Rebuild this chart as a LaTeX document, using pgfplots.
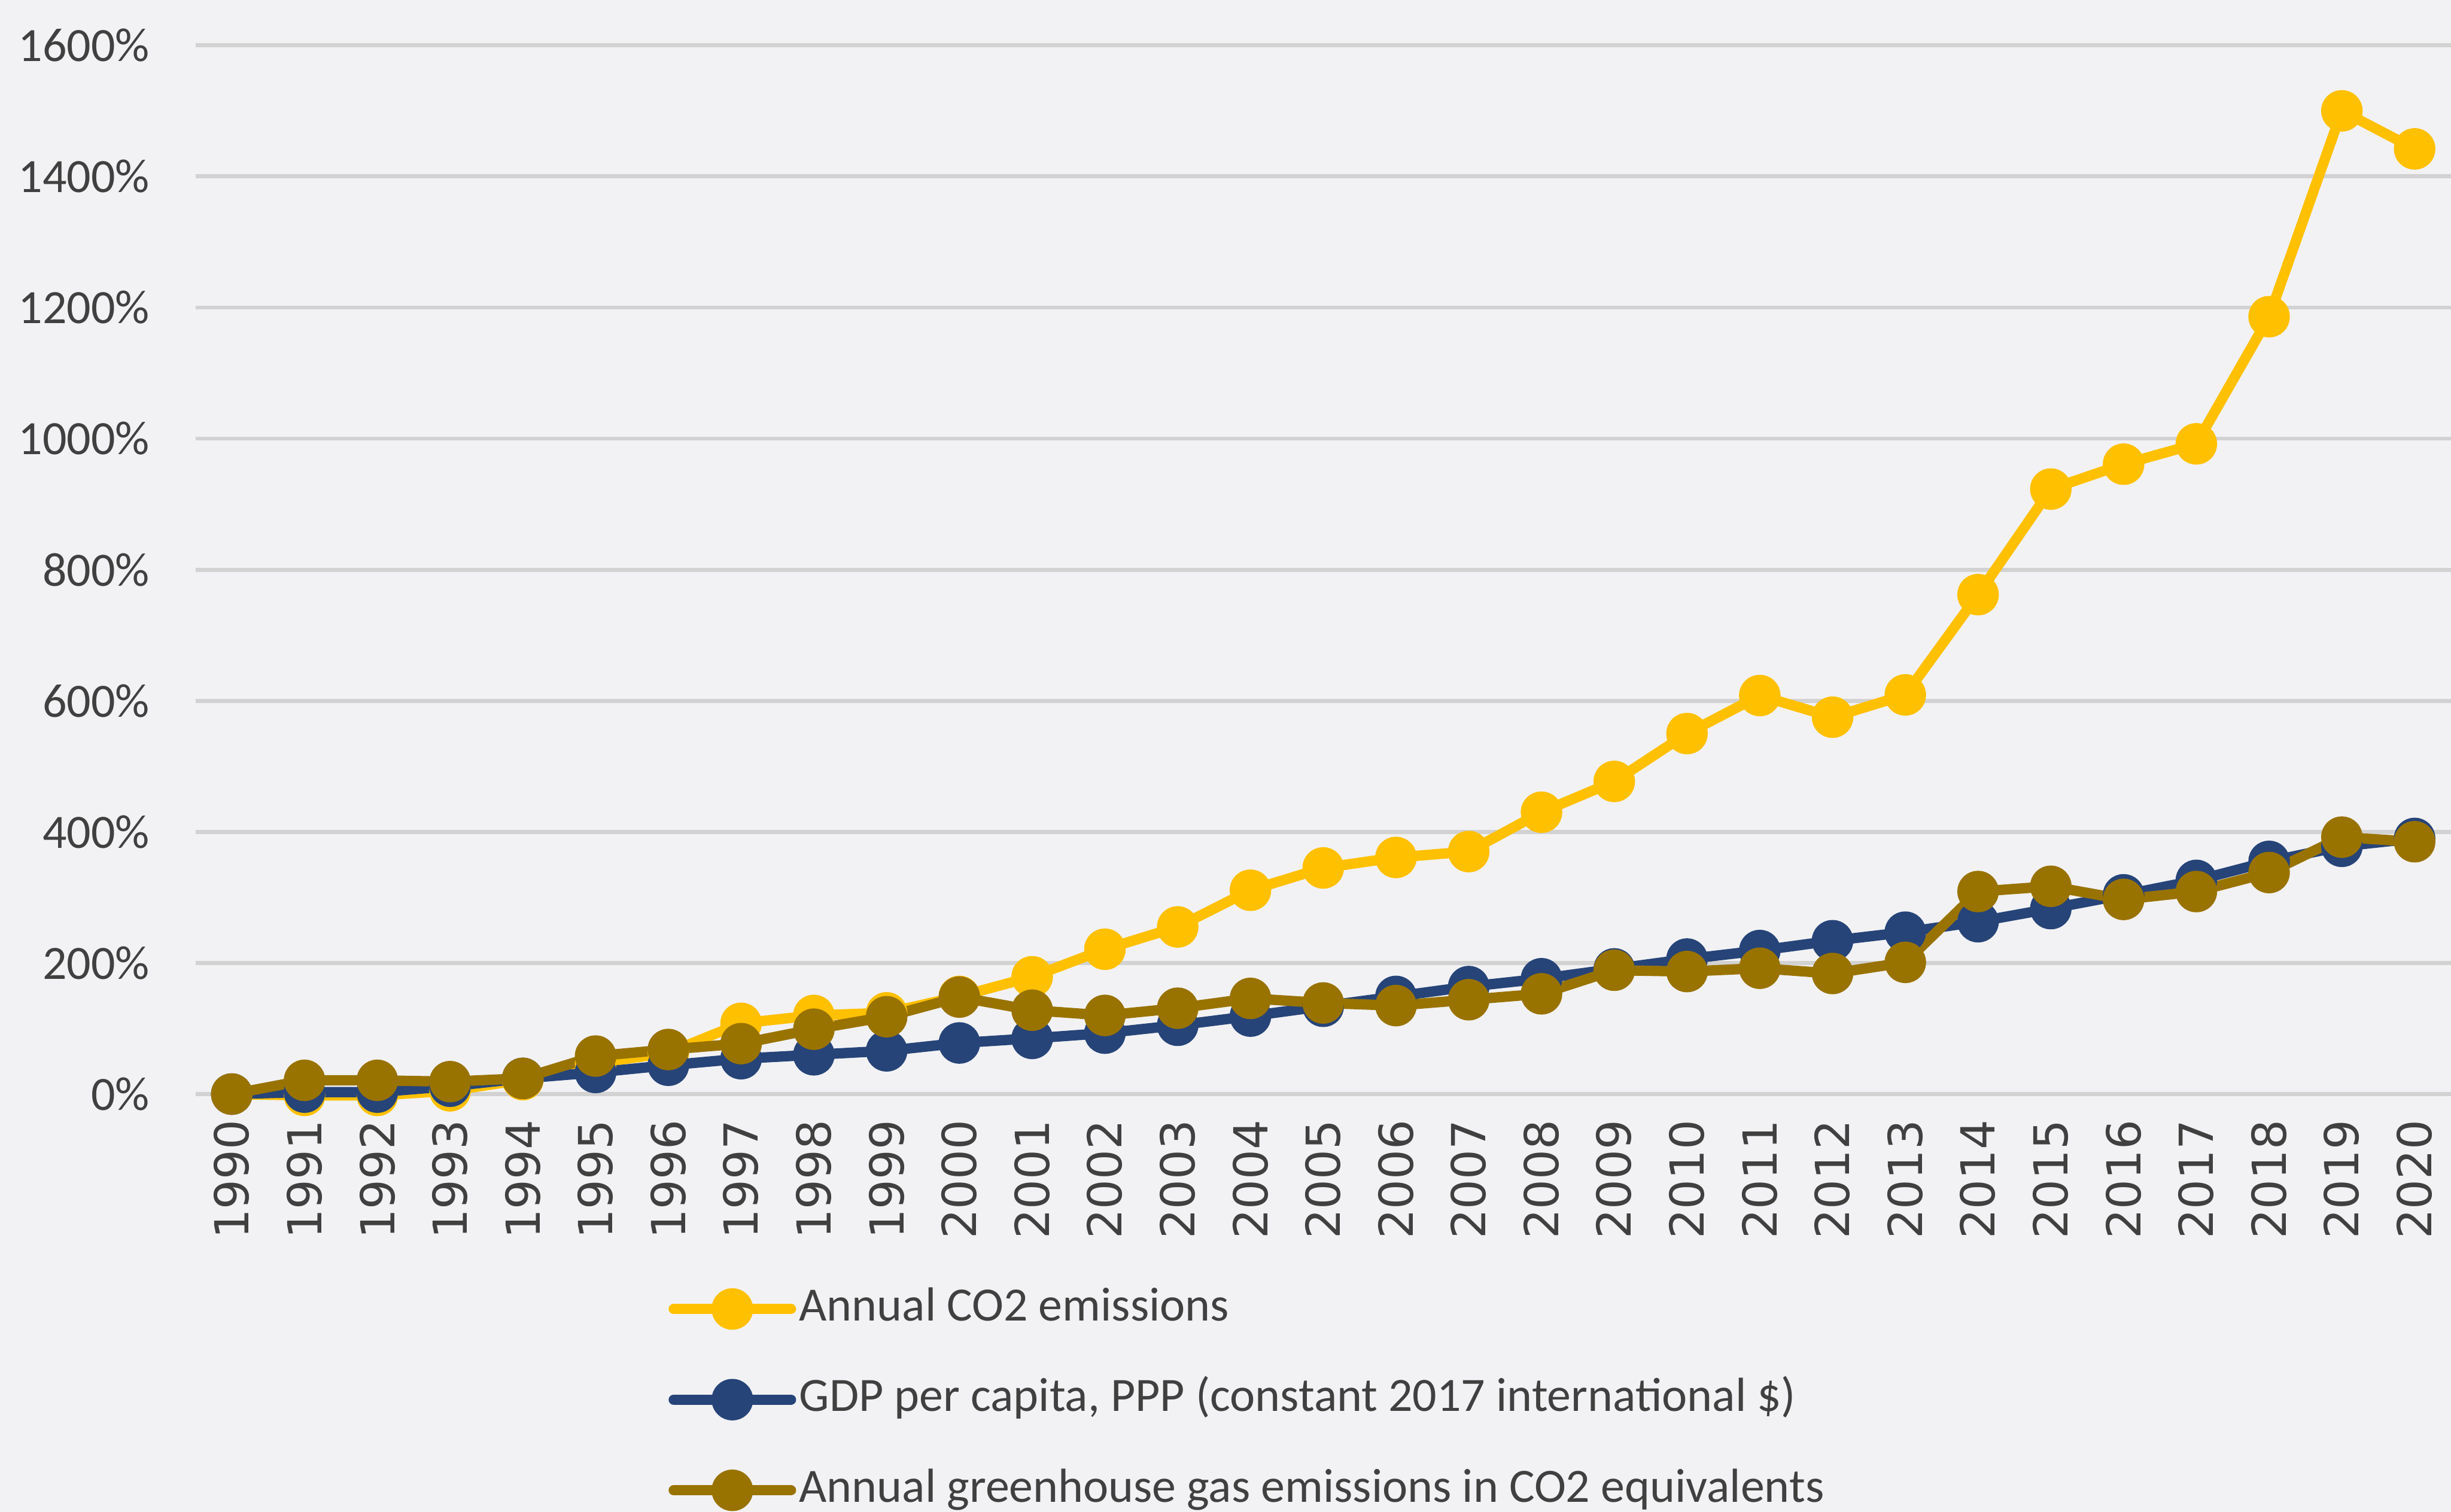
\documentclass[border=0pt]{standalone}
\usepackage{fontspec}
\setmainfont{Carlito}
\newfontfamily\dejavu{DejaVu Sans}
\usepackage{pgfplots}
\usepackage{pgfplotstable}
\pgfplotsset{compat=1.18}
\definecolor{bg}{RGB}{242,242,244}
\definecolor{gridc}{RGB}{210,210,210}
\definecolor{txt}{RGB}{64,64,64}
\definecolor{cgold}{HTML}{FFC000}
\definecolor{cblue}{HTML}{264478}
\definecolor{cbrown}{HTML}{997300}

\pgfplotstableread{
year co2 gdp ghg
1990 0 0 0
1991 -2 3 21
1992 -2 3 21
1993 5 12 19
1994 22 24 24
1995 47 33 58
1996 63 44 68
1997 108 54 77
1998 120 60 99
1999 124 66 118
2000 149 78 148
2001 179 85 128
2002 221 93 120
2003 255 105 131
2004 311 119 146
2005 345 134 139
2006 361 149 135
2007 370 164 144
2008 430 176 153
2009 477 191 189
2010 550 206 187
2011 608 219 192
2012 575 234 184
2013 609 247 201
2014 762 263 309
2015 923 283 317
2016 961 304 297
2017 992 326 309
2018 1186 355 338
2019 1500 378 392
2020 1442 390 385
}\datatable

\begin{document}
\begin{tikzpicture}
\fill[bg] (-70pt,-140pt) rectangle (730pt,360pt);
\begin{axis}[
  at={(0,0)}, anchor=south west,
  scale only axis, width=721.5pt, height=335.5pt,
  xmin=1989.5, xmax=2020.5, ymin=0, ymax=1600,
  xtick={1990,...,2020}, ytick={0,200,...,1600},
  ymajorgrids, grid style={gridc, line width=1.3pt},
  axis line style={draw=none}, major tick length=0pt,
  clip=false,
  /pgf/number format/1000 sep={},
  /pgf/number format/assume math mode=true,
  yticklabel={\pgfmathprintnumber{\tick}\%},
  yticklabel style={font=\fontsize{15.3}{18}\selectfont, text=txt, inner sep=0pt, anchor=east, xshift=-14.5pt},
  xticklabel style={rotate=90, anchor=east, font=\dejavu\fontsize{15}{18}\selectfont, text=txt, inner sep=8pt},
  legend cell align=left,
  legend style={at={(0.2095,-0.1827)}, anchor=north west, draw=none, fill=none, inner sep=0pt,
    row sep=14.5pt, font=\fontsize{15.3}{18}\selectfont, text=txt,
    nodes={inner sep=0pt, text height=11pt, text depth=3.5pt},
    /tikz/every odd column/.append style={column sep=1pt}},
  legend image code/.code={\draw[mark repeat=2, mark phase=2, #1] plot coordinates {(0pt,0pt) (18.75pt,0pt) (37.5pt,0pt)};},
  every axis plot/.append style={line width=3.3pt, line join=round, line cap=round, mark=*, mark size=5pt},
]
\addplot[cgold, mark options={draw=none, fill=cgold}] table[x=year, y=co2] {\datatable};
\addlegendentry{Annual CO2 emissions}
\addplot[cblue, mark options={draw=none, fill=cblue}] table[x=year, y=gdp] {\datatable};
\addlegendentry{GDP per capita, PPP (constant 2017 international \$)}
\addplot[cbrown, mark options={draw=none, fill=cbrown}] table[x=year, y=ghg] {\datatable};
\addlegendentry{Annual greenhouse gas emissions in CO2 equivalents}
\end{axis}
\pgfresetboundingbox
\path[use as bounding box] (-62.5pt,-133.5pt) rectangle (721.5pt,350pt);
\end{tikzpicture}
\end{document}
